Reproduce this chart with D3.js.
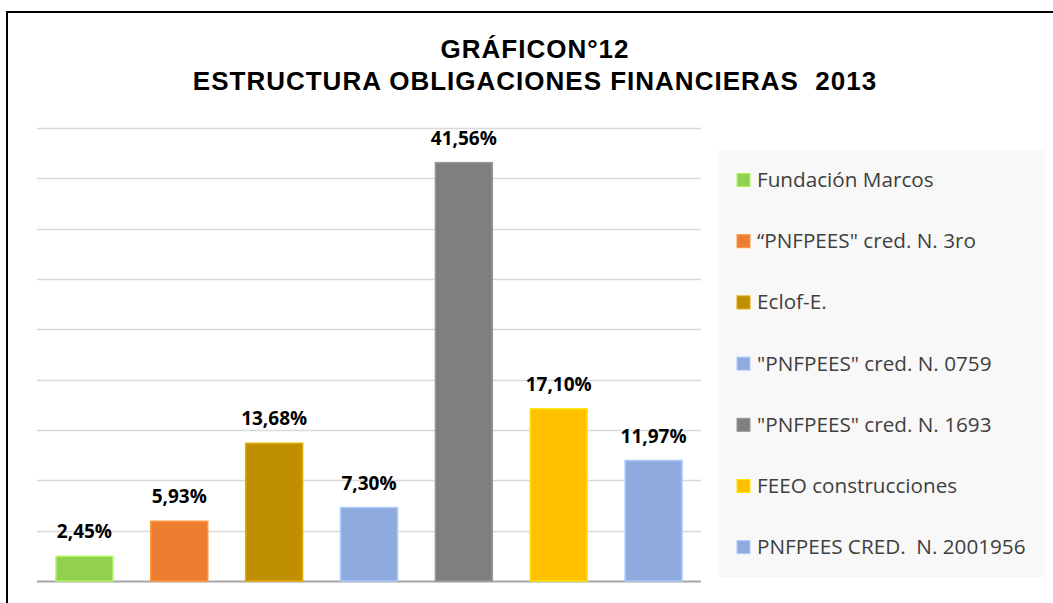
<!DOCTYPE html>
<html>
<head>
<meta charset="utf-8">
<script src="https://cdn.jsdelivr.net/npm/d3@7"></script>
<style>
  body { margin: 0; background: #fff; }
  text { white-space: pre; }
</style>
</head>
<body>
<div id="chart"></div>
<script>
// data
var categories = ["Fundación Marcos", "\u201cPNFPEES\" cred. N. 3ro", "Eclof-E.",
                  "\"PNFPEES\" cred. N. 0759", "\"PNFPEES\" cred. N. 1693",
                  "FEEO construcciones", "PNFPEES CRED.  N. 2001956"];
var values = [2.45, 5.93, 13.68, 7.30, 41.56, 17.10, 11.97];
var colours = ["#92D050", "#ED7D31", "#BF8F00", "#8FAADC", "#7F7F7F", "#FFC000", "#8FAADC"];
var gridTicks = [0, 5, 10, 15, 20, 25, 30, 35, 40, 45];
var titleLines = ["GRÁFICON°12", "ESTRUCTURA OBLIGACIONES FINANCIERAS  2013"];

var WIDTH = 1053, HEIGHT = 603;
var svg = d3.select("#chart").append("svg")
    .attr("width", WIDTH)
    .attr("height", HEIGHT);

// frame - only left and top edges are visible
svg.append("rect")
    .attr("x", 7).attr("y", 12)
    .attr("width", WIDTH + 20).attr("height", HEIGHT + 20)
    .attr("fill", "#fff")
    .attr("stroke", "#000")
    .attr("stroke-width", 2);

// title
svg.append("g").selectAll("text")
    .data(titleLines)
    .enter().append("text")
    .attr("x", 535)
    .attr("y", function (d, i) { return 58 + i * 32; })
    .attr("text-anchor", "middle")
    .style("font-family", "Liberation Sans, Arial, sans-serif")
    .style("font-weight", "bold")
    .style("font-size", "26px")
    .style("letter-spacing", "1px")
    .text(function (d) { return d; });

// scales
var x = d3.scaleBand()
    .domain(categories)
    .range([37, 701])
    .paddingInner(0.4)
    .paddingOuter(0.2);

var y = d3.scaleLinear()
    .domain([0, 45])
    .range([581, 128]);

// gridlines
svg.append("g").selectAll("line")
    .data(gridTicks)
    .enter().append("line")
    .attr("x1", 37).attr("x2", 701)
    .attr("y1", function (d) { return Math.round(y(d)) + 0.5; })
    .attr("y2", function (d) { return Math.round(y(d)) + 0.5; })
    .attr("stroke", function (d) { return d === 0 ? "#a6a6a6" : "#d9d9d9"; })
    .attr("stroke-width", function (d) { return d === 0 ? 2 : 1.3; });

// bars
svg.append("g").selectAll("rect")
    .data(values)
    .enter().append("rect")
    .attr("x", function (d, i) { return x(categories[i]); })
    .attr("y", function (d) { return y(d); })
    .attr("width", x.bandwidth())
    .attr("height", function (d) { return y(0) - y(d); })
    .attr("fill", function (d, i) { return colours[i]; })
    .attr("stroke", function (d, i) { return d3.color(colours[i]).brighter(0.5); })
    .attr("stroke-width", 1.5);

// value labels
svg.append("g").selectAll("text")
    .data(values)
    .enter().append("text")
    .attr("x", function (d, i) { return x(categories[i]) + x.bandwidth() / 2; })
    .attr("y", function (d) { return y(d) - 18; })
    .attr("text-anchor", "middle")
    .style("font-family", "Open Sans, sans-serif")
    .style("font-weight", "bold")
    .style("font-size", "19px")
    .style("fill", "#000")
    .text(function (d) { return d.toFixed(2).replace(".", ",") + "%"; });

// legend
svg.append("rect")
    .attr("x", 719).attr("y", 150)
    .attr("width", 325).attr("height", 427)
    .attr("fill", "#f8f8f8");

var legend = svg.append("g").selectAll("g")
    .data(categories)
    .enter().append("g")
    .attr("transform", function (d, i) { return "translate(737," + (180 + i * 61.2) + ")"; });

legend.append("rect")
    .attr("x", 0).attr("y", -6.5)
    .attr("width", 13).attr("height", 13)
    .attr("fill", function (d, i) { return colours[i]; })
    .attr("stroke", function (d, i) { return d3.color(colours[i]).brighter(0.5); })
    .attr("stroke-width", 1);

legend.append("text")
    .attr("x", 20)
    .attr("y", 7)
    .style("font-family", "Open Sans, sans-serif")
    .style("font-size", "20.7px")
    .style("fill", "#404040")
    .text(function (d) { return d; });
</script>
</body>
</html>
